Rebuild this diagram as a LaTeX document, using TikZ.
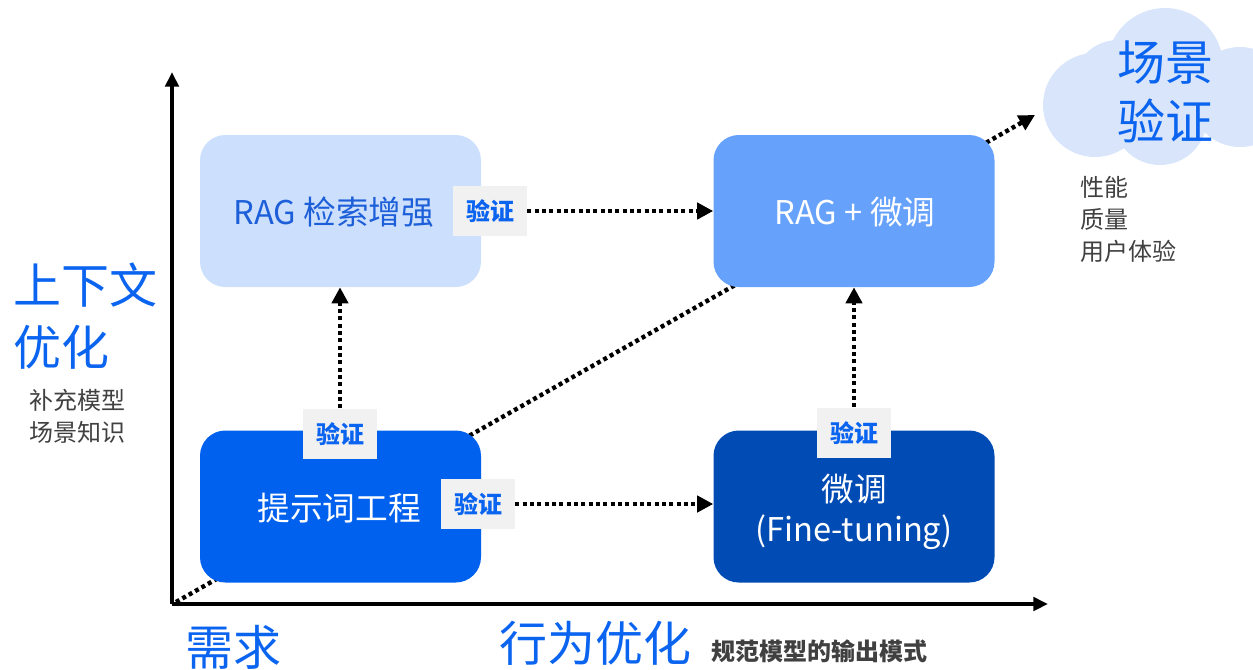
\documentclass[tikz,border=0pt]{standalone}
\usepackage{fontspec}
\setmainfont{Noto Sans CJK SC}
\usetikzlibrary{arrows.meta}
\definecolor{boxA}{HTML}{CCDFFC}
\definecolor{boxB}{HTML}{66A2FC}
\definecolor{boxC}{HTML}{0061EF}
\definecolor{boxD}{HTML}{004BB4}
\definecolor{vblue}{HTML}{0A64F0}
\definecolor{tblue}{HTML}{1D5FD9}
\definecolor{lgray}{HTML}{F1F1F1}
\definecolor{dgray}{HTML}{404040}
\definecolor{cloudc}{HTML}{D8E5FA}
\tikzset{
  mbox/.style={rounded corners=19pt, minimum width=210.75pt, minimum height=114pt, inner sep=0pt},
  vlabel/.style={fill=lgray, text=vblue, font=\bfseries\fontsize{18}{20}\selectfont, minimum width=55.5pt, minimum height=38pt, inner sep=0pt},
  dotline/.style={line width=3.3pt, dash pattern=on 3pt off 2.5pt, -{Triangle[length=12pt,width=12pt]}},
  axis/.style={line width=3pt, -{Triangle[length=11pt,width=10pt]}},
  bigt/.style={text=vblue, font=\fontsize{36}{40}\selectfont, inner sep=0pt},
  smallt/.style={text=dgray, font=\fontsize{18}{22}\selectfont, inner sep=0pt, anchor=west},
  boxt/.style={font=\fontsize{24.5}{30}\selectfont, inner sep=0pt},
}
\begin{document}
\begin{tikzpicture}[x=0.75pt,y=-0.75pt]
\useasboundingbox (0,0) rectangle (1253,669);
% cloud
\fill[cloudc] (1165,66) circle (58);
\fill[cloudc] (1095,105) circle (52);
\fill[cloudc] (1160,118) circle (47);
\fill[cloudc] (1240,97) circle (50);
\fill[cloudc] (1118,85) circle (45);
\node[bigt] (cl1) at (1165,63) {场景};
\node[bigt] (cl2) at (1165,121) {验证};
\node[smallt] (m1) at (1080,187) {性能};
\node[smallt] (m2) at (1080,219) {质量};
\node[smallt] (m3) at (1080,251) {用户体验};
% axes
\coordinate (o) at (172,604);
\coordinate (ytop) at (172,72);
\coordinate (xend) at (1048,604);
\draw[axis] (o) -- (ytop);
\draw[axis] (o) -- (xend);
% diagonal
\coordinate (d0) at (176,602);
\coordinate (d1) at (1035,115);
\draw[dotline] (d0) -- (d1);
% boxes
\node[mbox, fill=boxA] (b1) at (340.5,211) {};
\node[mbox, fill=boxB] (b2) at (854,211) {};
\node[mbox, fill=boxC] (b3) at (340.5,506.5) {};
\node[mbox, fill=boxD] (b4) at (854,506.5) {};
\node[boxt, text=tblue] (t1) at (334,212) {RAG 检索增强};
\node[boxt, text=white] (t2) at (855,212) {RAG + 微调};
\node[boxt, text=white] (t3) at (339,508) {提示词工程};
\node[boxt, text=white, align=center] (t4) at (854,512) {微调\\(Fine-tuning)};
% labels
\node[vlabel] (va) at (490,211) {验证};
\node[vlabel] (vb) at (340,434) {验证};
\node[vlabel] (vc) at (478,504) {验证};
\node[vlabel] (vd) at (854,433) {验证};
% arrows
\draw[dotline] (va.east) -- (b2.west |- va.east);
\draw[dotline] (vb.north) -- (b1.south -| vb.north);
\draw[dotline] (vc.east) -- (b4.west |- vc.east);
\draw[dotline] (vd.north) -- (b2.south -| vd.north);
% side texts
\node[bigt, anchor=west] (s1) at (13,285) {上下文};
\node[bigt, anchor=west] (s2) at (13,347) {优化};
\node[smallt] (s3) at (29,400) {补充模型};
\node[smallt] (s4) at (29,432) {场景知识};
\node[bigt, anchor=west] (n1) at (185,647) {需求};
\node[bigt, anchor=west] (n2) at (499,643) {行为优化};
\node[smallt, font=\bfseries\fontsize{18}{22}\selectfont] (n3) at (711,651) {规范模型的输出模式};
\end{tikzpicture}
\end{document}
